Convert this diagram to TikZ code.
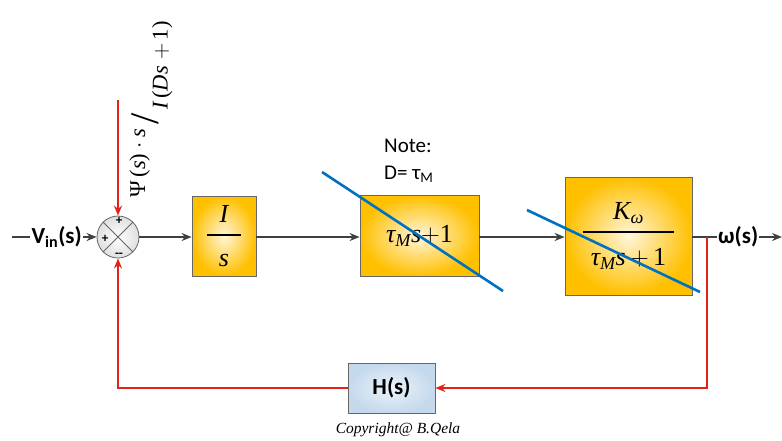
\documentclass[tikz,border=0pt]{standalone}
\usepackage{fix-cm}
\usepackage{amsmath}
\usepackage{fontspec}
\newfontfamily\carl{Carlito}
\newfontfamily\tms{Liberation Serif}
\newcommand\ti[1]{\text{\tms\itshape #1}}
\newcommand\tr[1]{\text{\tms #1}}
\usetikzlibrary{arrows.meta}
\definecolor{gold}{RGB}{255,192,0}
\definecolor{goldin}{RGB}{255,246,220}
\definecolor{hblue}{RGB}{197,217,236}
\definecolor{hbluein}{RGB}{236,243,250}
\definecolor{conn}{RGB}{64,64,64}
\definecolor{fbred}{RGB}{225,35,25}
\definecolor{strike}{RGB}{0,112,192}
\begin{document}
\begin{tikzpicture}[x=1pt,y=-1pt,
  blk/.style={draw=gray!80!black, line width=0.8pt, inner color=goldin, outer color=gold, inner sep=0pt},
  hblk/.style={draw=gray!80!black, line width=0.8pt, inner color=hbluein, outer color=hblue, inner sep=0pt},
  sumc/.style={circle, draw=gray!80!black, line width=0.8pt, inner color=white, outer color=gray!25, minimum size=42pt, inner sep=0pt},
  conline/.style={draw=conn, line width=1.6pt},
  conarrow/.style={conline, -{Stealth[length=10pt,width=8pt]}},
  redline/.style={draw=fbred, line width=1.6pt},
  redarrow/.style={redline, -{Stealth[length=10pt,width=8pt]}},
  strikeline/.style={draw=strike, line width=2.6pt},
  lbl/.style={font=\carl\bfseries\fontsize{23}{27}\selectfont, inner sep=1pt},
  sgn/.style={font=\carl\bfseries\fontsize{13}{15}\selectfont, inner sep=0pt},
  mth/.style={font=\fontsize{26}{30}\selectfont}
]
\useasboundingbox (0,0) rectangle (782,440);

% blocks
\node[sumc] (sum) at (118,237) {};
\draw[gray!80!black, line width=0.8pt] (sum.north west) -- (sum.south east);
\draw[gray!80!black, line width=0.8pt] (sum.north east) -- (sum.south west);
\node[sgn] (pt) at (119,221) {+};
\node[sgn] (pl) at (105,239) {+};
\node[sgn] (mb) at (119,255) {--};

\node[blk, minimum width=64pt, minimum height=80pt, mth] (b1) at (224,236)
  {$\genfrac{}{}{1.6pt}{0}{\makebox[34pt]{\ti{I}}\rule[-7pt]{0pt}{7pt}}{\rule{0pt}{26pt}\ti{s}}$};
\node[blk, minimum width=119pt, minimum height=81pt, mth] (b2) at (419.5,236)
  {$\ti{τ}_{\ti{M}}\ti{s}{+}\tr{1}$};
\node[blk, minimum width=127pt, minimum height=118pt, mth] (b3) at (628.5,236)
  {$\genfrac{}{}{1.6pt}{0}{\makebox[91pt]{$\ti{K}_{\ti{ω}}$}\rule[-7pt]{0pt}{7pt}}{\rule{0pt}{28pt}\ti{τ}_{\ti{M}}\ti{s}\,{+}\,\tr{1}}$};
\node[hblk, minimum width=87pt, minimum height=50pt, lbl] (H) at (391.5,388) {H(s)};

% labels
\node[lbl, anchor=east] (vin) at (83,237) {V\textsubscript{in}(s)};
\node[lbl, anchor=west] (om) at (717,237) {ω(s)};
\node[anchor=west, align=left, inner sep=0pt, font=\carl\fontsize{21}{27}\selectfont] (note) at (384,161) {Note:\\D= τ\textsubscript{M}};
\node[rotate=90, anchor=west, inner sep=0pt, font=\fontsize{22.5}{26}\selectfont] (psi) at (151,198)
  {\raisebox{0.4em}{$\tr{Ψ}\,\tr{(}\ti{s}\tr{)}\cdot\ti{s}$}\,\raisebox{-0.2em}{\scalebox{1.8}{\tms /}}\,\raisebox{-0.6em}{$\ti{I}\,\tr{(}\ti{Ds}\;{+}\,\tr{1)}$}};
\node[font=\tms\itshape\fontsize{15.5}{18}\selectfont, inner sep=0pt] (copy) at (398,430) {Copyright@ B.Qela};

% coordinates
\coordinate (inL) at (12,237);
\coordinate (outR) at (782,237);
\coordinate (br) at (707,237);
\coordinate (psiin) at (118,100);
\coordinate (s1a) at (322,172);
\coordinate (s1b) at (503,291);
\coordinate (s2a) at (527,210);
\coordinate (s2b) at (700,292);

% connectors
\draw[conline] (inL) -- (vin.west);
\draw[conarrow] (vin.east) -- (sum.west);
\draw[conarrow] (sum.east) -- (b1.west |- sum.east);
\draw[conarrow] (b1.east |- sum.east) -- (b2.west |- sum.east);
\draw[conarrow] (b2.east |- sum.east) -- (b3.west |- sum.east);
\draw[conline] (b3.east |- sum.east) -- (om.west);
\draw[conarrow] (om.east) -- (outR);

\draw[redarrow] (psiin) -- (sum.north);
\draw[redarrow] (br) |- (H.east);
\draw[redarrow] (H.west) -| (sum.south);

% strike-through lines
\draw[strikeline] (s1a) -- (s1b);
\draw[strikeline] (s2a) -- (s2b);
\end{tikzpicture}
\end{document}
